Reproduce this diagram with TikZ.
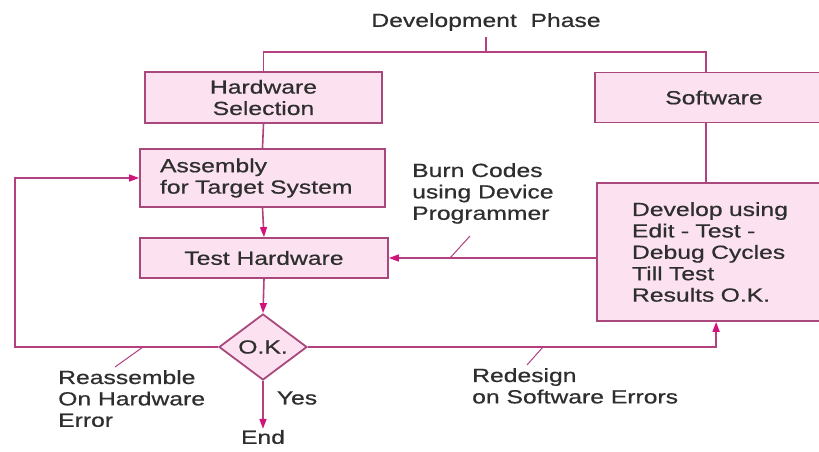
\documentclass[tikz,border=0pt]{standalone}
\usepackage{fontspec}
\setmainfont{Liberation Sans}[FakeStretch=1.3,FakeBold=0.6]
\usetikzlibrary{shapes.geometric,arrows.meta,calc}

\definecolor{boxfill}{HTML}{FCE2F1}
\definecolor{boxline}{HTML}{A8487C}
\definecolor{flowline}{HTML}{B4407F}
\definecolor{tipcol}{HTML}{D0147C}
\definecolor{txt}{HTML}{2E2E2E}

\tikzset{
  every node/.style={text=txt, font=\fontsize{19}{21.4}\selectfont},
  stagebox/.style={draw=boxline, line width=1.8pt, fill=boxfill, rectangle, inner sep=0pt},
  decision/.style={draw=boxline, line width=1.8pt, fill=boxfill, diamond, inner sep=0pt,
                   minimum width=88pt, minimum height=66pt},
  flow/.style={draw=flowline, line width=1.6pt},
  flowarrow/.style={flow, -{Triangle[length=10pt,width=7pt,fill=tipcol,color=tipcol]}},
  pointer/.style={draw=flowline, line width=1pt},
  caption/.style={align=left, inner sep=0pt, anchor=north west},
}

\begin{document}
\begin{tikzpicture}[x=1pt,y=-1pt]
  \useasboundingbox (0,0) rectangle (819,452);
  \clip (0,0) rectangle (819,452);
  \fill[white] (0,0) rectangle (819,452);

  % stages
  \node[stagebox, minimum width=237pt, minimum height=51pt, align=center]
       (hw) at (263.5,97.5) {Hardware\\Selection};
  \node[stagebox, minimum width=245pt, minimum height=58pt, align=left,
        text width=205pt, inner xsep=20pt]
       (asm) at (262.5,178) {Assembly\\for Target System};
  \node[stagebox, minimum width=248pt, minimum height=40pt]
       (th) at (264,258) {Test Hardware};
  \node[decision] (ok) at (263,347) {O.K.};
  \node[inner sep=1pt] (end) at (263,437) {End};

  \node[stagebox, minimum width=238pt, minimum height=50pt]
       (sw) at (714,97.5) {Software};
  \node[stagebox, minimum width=250pt, minimum height=138pt, align=left,
        text width=180pt, inner xsep=35pt]
       (dev) at (722,252) {Develop using\\Edit - Test -\\Debug Cycles\\Till Test\\Results O.K.};

  % phase heading and its branching
  \node[inner sep=0pt] (dp) at (486,22) {Development\ \ Phase};
  \coordinate (jx) at (706,52);
  \draw[flow] (dp.south |- 0,37) -- (dp.south |- jx);
  \draw[flow] (hw.north) |- (jx) -- (jx |- sw.north);
  \draw[flow] (jx |- sw.south) -- (jx |- dev.north);

  % hardware chain
  \draw[flow] (hw.south) -- (asm.north);
  \draw[flowarrow] (asm.south) -- (th.north);
  \draw[flowarrow] (th.south) -- (ok.north);
  \draw[flowarrow] (ok.south) -- (end.north);
  \node[inner sep=0pt] (yes) at (297,398) {Yes};

  % burn codes from software into hardware
  \draw[flowarrow] (th.east -| dev.west) -- (th.east);

  % loops back on error
  \coordinate (lx) at (15,347);
  \draw[flowarrow] (ok.west) -- (lx) |- (asm.west);
  \coordinate (rx) at ($(dev.south west)+(120,0)$);
  \draw[flowarrow] (ok.east) -| (rx);

  % labels with pointers
  \node[caption] (burn) at (412,163) {Burn Codes\\using Device\\Programmer};
  \coordinate (burnp) at (450,258);
  \draw[pointer] (burnp) -- (470,236);

  \node[caption] (reas) at (58,370) {Reassemble\\On Hardware\\Error};
  \coordinate (reasp) at (143,347);
  \draw[pointer] (reasp) -- (115,367);

  \node[caption] (redes) at (472,368) {Redesign\\on Software Errors};
  \coordinate (redp) at (543,347);
  \draw[pointer] (redp) -- (527,365);
\end{tikzpicture}
\end{document}
